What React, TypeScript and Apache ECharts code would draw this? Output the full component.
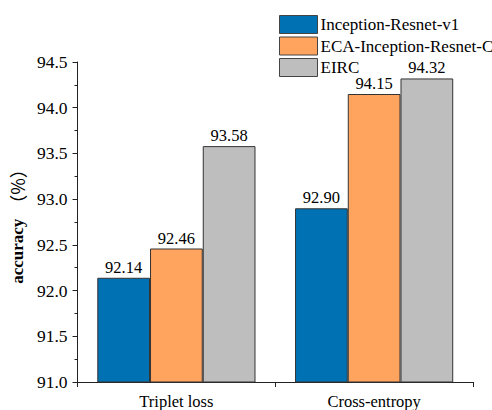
import React, { useEffect, useRef } from "react";
import * as echarts from "echarts";

const categories = ["Triplet loss", "Cross-entropy"];
const seriesNames = ["Inception-Resnet-v1", "ECA-Inception-Resnet-C", "EIRC"];
const inceptionValues = [92.14, 92.9];
const ecaValues = [92.46, 94.15];
const eircValues = [93.58, 94.32];
const colors = ["#0072B3", "#FFA45F", "#BEBEBE"];

const FONT = "Liberation Serif";

export default function App() {
  const ref = useRef<HTMLDivElement>(null);
  useEffect(() => {
    if (!ref.current) return;
    const chart = echarts.init(ref.current, null, { renderer: "svg" });
    const allValues = [inceptionValues, ecaValues, eircValues];
    chart.setOption({
      animation: false,
      backgroundColor: "#fff",
      textStyle: { fontFamily: FONT },
      legend: {
        orient: "vertical",
        left: 279,
        top: 15,
        width: 213,
        padding: 0,
        itemWidth: 38,
        itemHeight: 18,
        itemGap: 2.5,
        icon: "rect",
        itemStyle: { borderColor: "#444", borderWidth: 1 },
        textStyle: {
          fontFamily: FONT,
          fontSize: 17,
          color: "#000",
          overflow: "none",
          width: 180,
          padding: [0, 0, 0, -2],
        },
        data: seriesNames,
      },
      grid: { left: 73, right: 19, top: 62, bottom: 27 },
      xAxis: [
        {
          type: "category",
          data: categories,
          axisLine: { lineStyle: { color: "#222", width: 1 } },
          axisTick: { alignWithLabel: true, length: 5, lineStyle: { color: "#222" } },
          axisLabel: { fontFamily: FONT, fontSize: 16.5, color: "#000", margin: 11 },
        },
        {
          type: "category",
          data: categories,
          position: "bottom",
          axisLine: { show: false },
          axisTick: { show: true, length: 5, lineStyle: { color: "#222" } },
          axisLabel: { show: false },
        },
      ],
      yAxis: {
        type: "value",
        min: 91,
        max: 94.5,
        interval: 0.5,
        name: "{b|accuracy}{n|（%）}",
        nameLocation: "middle",
        nameRotate: 90,
        nameGap: 36,
        nameTextStyle: {
          rich: {
            b: { fontFamily: FONT, fontSize: 17, fontWeight: "bold", color: "#000" },
            n: { fontFamily: "Noto Sans CJK SC", fontSize: 18, color: "#000", padding: [0, 0, 0, 6] },
          },
        },
        axisLine: { show: true, lineStyle: { color: "#222", width: 1 } },
        axisTick: { show: true, length: 5, lineStyle: { color: "#222" } },
        minorTick: { show: true, splitNumber: 2, length: 3, lineStyle: { color: "#222" } },
        splitLine: { show: false },
        axisLabel: {
          fontFamily: FONT,
          fontSize: 17.5,
          color: "#000",
          margin: 10,
          formatter: (v: number) => v.toFixed(1),
        },
      },
      series: seriesNames.map((name, i) => ({
        name,
        type: "bar",
        xAxisIndex: 0,
        data: allValues[i],
        barGap: "0%",
        barCategoryGap: "20%",
        itemStyle: { color: colors[i], borderColor: "#333", borderWidth: 1 },
        label: {
          show: true,
          position: "top",
          distance: 2,
          fontFamily: FONT,
          fontSize: 16.5,
          color: "#000",
          formatter: (p: any) => Number(p.value).toFixed(2),
        },
      })),
    });
    return () => chart.dispose();
  }, []);
  return (
    <div
      ref={ref}
      style={{ position: "fixed", left: 0, top: 0, width: 492, height: 410 }}
    />
  );
}
